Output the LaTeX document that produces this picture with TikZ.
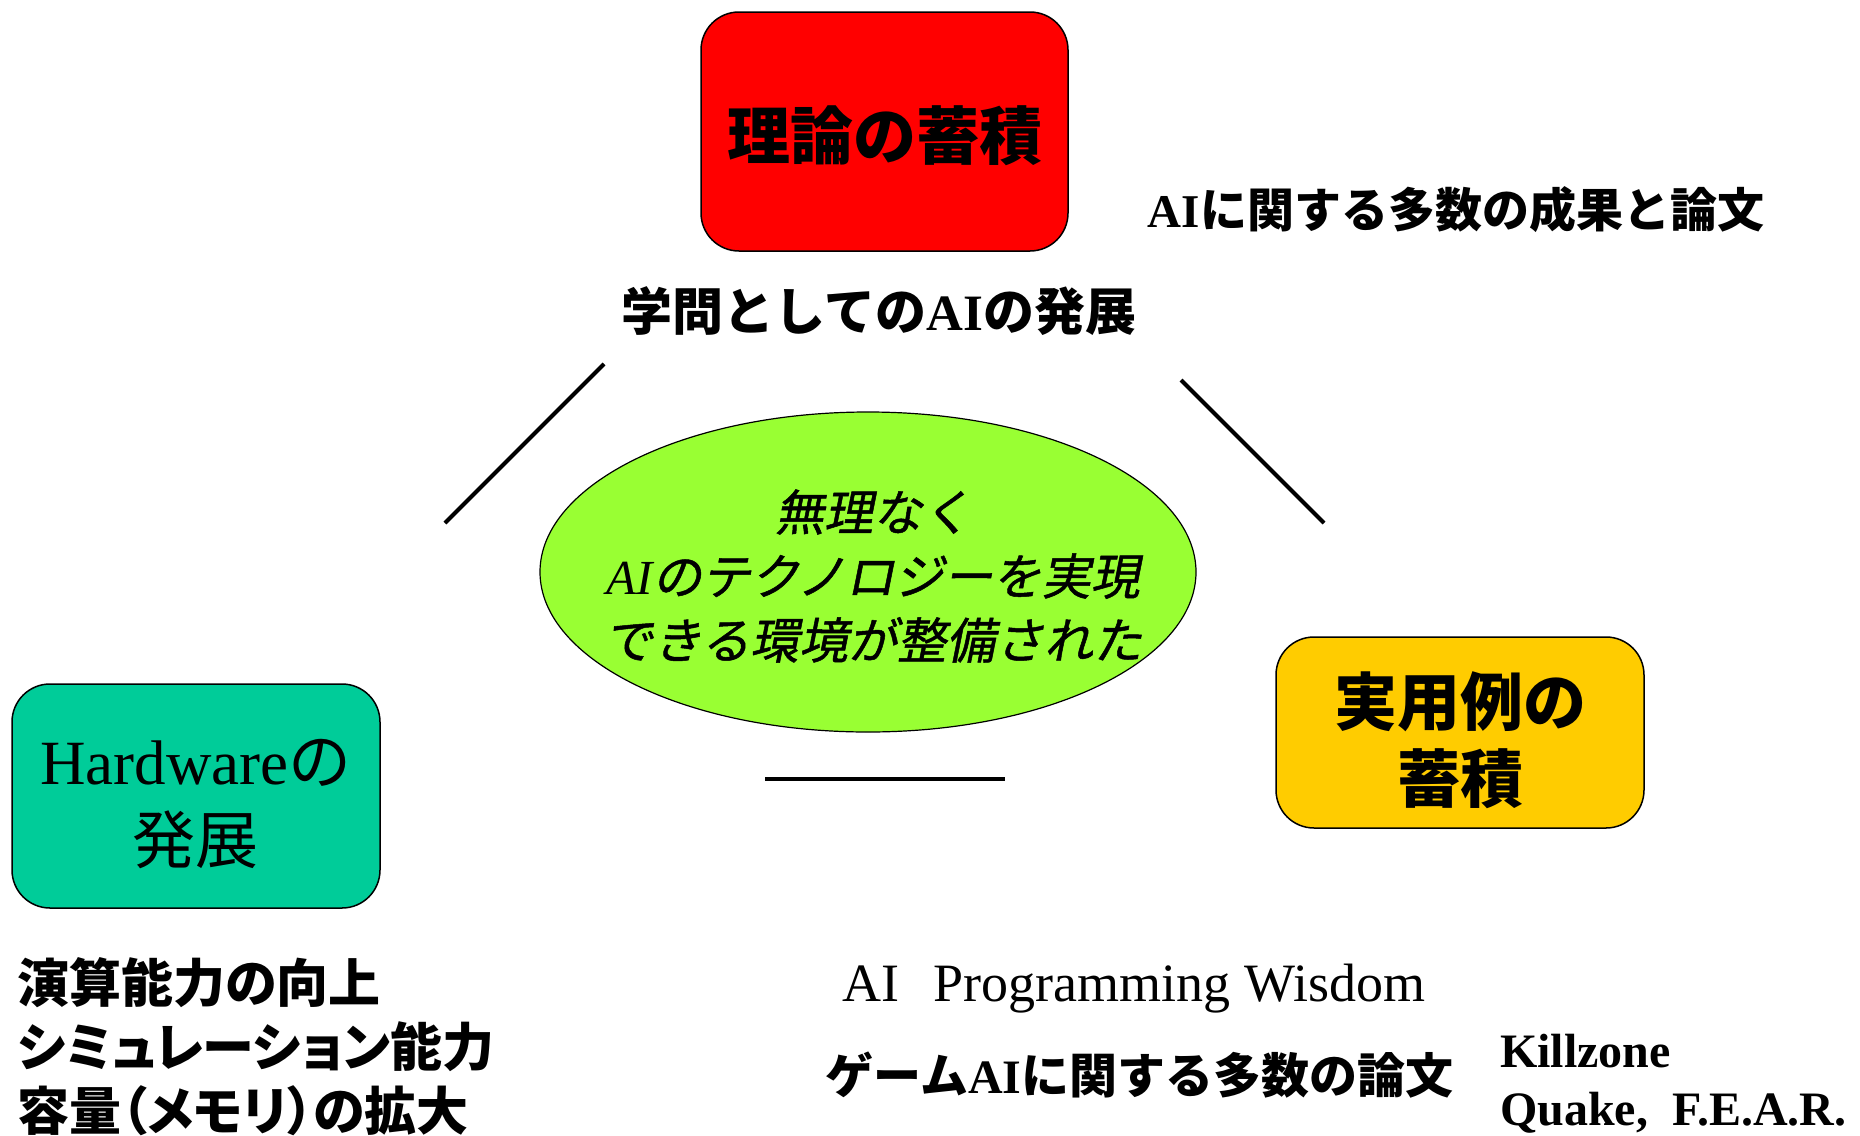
\documentclass[tikz,border=0pt]{standalone}
\usepackage{fontspec}
\usetikzlibrary{shapes.geometric}
\setmainfont{Liberation Serif}
\newfontfamily\jp{Noto Sans CJK JP}
\newfontfamily\jpp{Noto Sans CJK JP}[RawFeature=+palt]
\newfontfamily\jpit{Noto Sans CJK JP}[FakeSlant=0.2,FakeBold=1]
\definecolor{boxred}{HTML}{FF0000}
\definecolor{boxteal}{HTML}{00CC99}
\definecolor{boxorange}{HTML}{FFCC00}
\definecolor{ellgreen}{HTML}{99FF33}
\begin{document}
\begin{tikzpicture}[x=1pt,y=-1pt,
  roundbox/.style={draw=black,line width=1.5pt,rounded corners=38pt,inner sep=0pt,align=center,text=black},
  bigjp/.style={font=\fontsize{63}{78}\selectfont\jp\bfseries},
  caption/.style={inner sep=0pt,font=\fontsize{51}{64}\selectfont\jp\bfseries},
  linkline/.style={line width=4pt}]
\useasboundingbox (0,0) rectangle (1860,1135);
\fill[white] (0,0) rectangle (1860,1135);
% boxes
\node[roundbox,fill=boxred,minimum width=367pt,minimum height=239pt] (theory) at (884.5,131.5) {};
\node[bigjp,inner sep=0pt] (theorytext) at (884.5,136) {理論の蓄積};
\node[roundbox,fill=boxteal,minimum width=368pt,minimum height=224pt] (hw) at (196,796) {};
\node[inner sep=0pt,align=center,font=\fontsize{63}{79}\selectfont] (hwtext) at (196,804) {Hardware{\jp の}\\{\jp 発展}};
\node[roundbox,fill=boxorange,minimum width=368pt,minimum height=191pt] (case) at (1460,732.5) {};
\node[inner sep=0pt,align=center,font=\fontsize{63}{77}\selectfont\jp\bfseries] (casetext) at (1460,740) {実用例の\\蓄積};
% ellipse
\node[draw=black,line width=1.2pt,fill=ellgreen,ellipse,minimum width=656pt,minimum height=320pt,inner sep=0pt] (env) at (868,572) {};
\node[align=center,inner sep=0pt,font=\fontsize{49}{64}\selectfont\jpit] (envtext) at (873,576) {無理なく\\{\rmfamily\itshape AI}のテクノロジーを実現\\できる環境が整備された};
% captions
\node[caption] (acad) at (879,311) {学問としての{\rmfamily AI}の発展};
\node[caption,font=\fontsize{47}{60}\selectfont\jp\bfseries] (papers) at (1456,210) {{\rmfamily AI}に関する多数の成果と論文};
\node[caption,anchor=west,align=left,font=\fontsize{52}{64}\selectfont\jpp\bfseries] (hwlist) at (17,1047) {演算能力の向上\\シミュレーション能力\\容量（メモリ）の拡大};
\node[inner sep=0pt,font=\fontsize{54}{64}\selectfont] (wisdom) at (1134,989) {AI\hspace{0.63em}Programming Wisdom};
\node[caption,font=\fontsize{48}{64}\selectfont\jp\bfseries] (gamepapers) at (1139.5,1075) {ゲーム{\rmfamily AI}に関する多数の論文};
\node[inner sep=0pt,anchor=west,align=left,font=\fontsize{48}{58}\selectfont\bfseries] (games) at (1500,1084) {Killzone\\Quake,\ \ F.E.A.R.};
% connector lines
\coordinate (l1a) at (604,364);
\coordinate (l1b) at (445,523);
\coordinate (l2a) at (1181,380);
\coordinate (l2b) at (1324,523);
\coordinate (l3a) at (765,779);
\coordinate (l3b) at (1005,779);
\draw[linkline] (l1a) -- (l1b);
\draw[linkline] (l2a) -- (l2b);
\draw[linkline] (l3a) -- (l3b);
\end{tikzpicture}
\end{document}
